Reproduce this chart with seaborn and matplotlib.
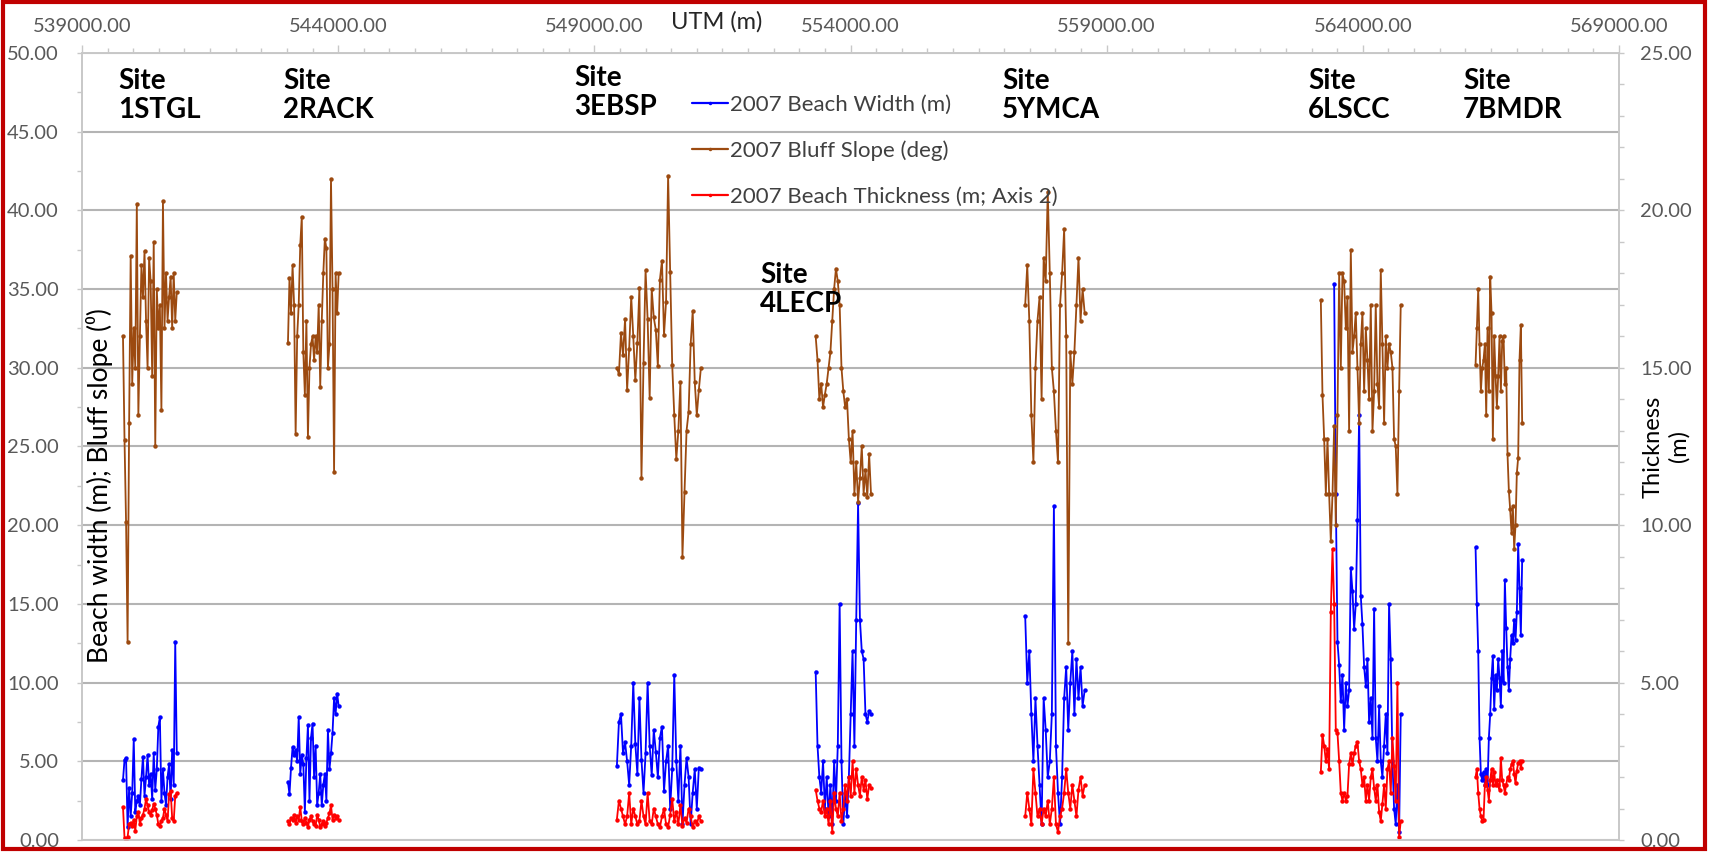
import matplotlib
matplotlib.use("Agg")
import numpy as np
import pandas as pd
import matplotlib.pyplot as plt
import seaborn as sns
from matplotlib.lines import Line2D
from matplotlib.patches import Rectangle
from matplotlib.ticker import MultipleLocator, FormatStrFormatter

# ---------------- data (UTM easting, m) ----------------
sites = ["1STGL", "2RACK", "3EBSP", "4LECP", "5YMCA", "6LSCC", "7BMDR"]

east_1 = [539800, 539830, 539860, 539890, 539920, 539950, 539980, 540010, 540040, 540070, 540100, 540130,
          540160, 540190, 540220, 540250, 540280, 540310, 540340, 540370, 540400, 540430, 540460, 540490,
          540520, 540550, 540580, 540610, 540640, 540670, 540700, 540730, 540760, 540790, 540820, 540850]
slope_1 = [32.0, 25.4, 20.2, 12.6, 26.5, 37.1, 29.0, 32.5, 30.0, 40.4, 27.0, 32.0, 36.5, 34.5, 37.4, 33.0,
           30.0, 37.0, 35.5, 29.5, 38.0, 25.0, 35.0, 32.5, 34.0, 27.3, 40.6, 32.5, 36.0, 33.0, 34.5, 35.8,
           32.5, 36.0, 33.0, 34.8]
width_1 = [3.8, 5.1, 5.2, 0.8, 3.3, 1.5, 3.0, 6.4, 1.8, 2.5, 2.8, 2.2, 3.9, 5.3, 2.8, 4.0, 5.4, 3.5, 4.2,
           2.6, 5.5, 3.2, 4.5, 7.2, 7.8, 2.5, 4.5, 3.0, 2.2, 4.0, 4.8, 2.6, 5.7, 3.5, 12.6, 5.5]
thick_1 = [1.05, 0.05, 0.0, 0.1, 0.5, 0.55, 0.45, 0.65, 0.3, 0.75, 0.9, 0.5, 0.7, 0.8, 1.0, 1.3, 1.1, 0.9,
           0.8, 0.95, 1.15, 1.0, 0.8, 0.5, 0.45, 0.6, 0.7, 1.0, 0.8, 0.6, 1.45, 1.55, 0.7, 0.6, 1.4, 1.5]

east_2 = [543020, 543050, 543080, 543110, 543140, 543170, 543200, 543230, 543260, 543290, 543320, 543350,
          543380, 543410, 543440, 543470, 543500, 543530, 543560, 543590, 543620, 543650, 543680, 543710,
          543740, 543770, 543800, 543830, 543860, 543890, 543920, 543950, 543980, 544010]
slope_2 = [31.6, 35.7, 33.5, 36.5, 34.0, 25.8, 32.0, 34.0, 37.8, 39.6, 31.0, 28.3, 33.0, 25.6, 30.0, 31.5,
           32.0, 30.5, 32.0, 31.0, 34.0, 28.8, 33.0, 36.0, 38.2, 37.6, 30.0, 31.5, 42.0, 35.0, 23.4, 36.0,
           33.5, 36.0]
width_2 = [3.7, 2.9, 4.6, 5.9, 5.4, 5.7, 5.0, 7.8, 4.2, 5.4, 4.8, 1.8, 5.2, 7.3, 2.5, 6.5, 7.4, 4.0, 6.0,
           2.2, 3.0, 4.2, 2.2, 3.5, 4.2, 2.5, 7.0, 4.5, 5.5, 6.8, 9.0, 8.0, 9.3, 8.5]
thick_2 = [0.6, 0.5, 0.7, 0.65, 0.8, 0.55, 0.75, 0.65, 1.05, 0.6, 0.5, 0.7, 0.55, 0.4, 0.65, 0.75, 0.6, 0.5,
           0.45, 0.8, 0.65, 0.4, 0.5, 0.6, 0.45, 0.55, 0.7, 0.85, 1.1, 0.65, 0.8, 0.7, 0.75, 0.65]

east_3 = [549440, 549480, 549520, 549560, 549600, 549640, 549680, 549720, 549760, 549800, 549840, 549880,
          549920, 549960, 550000, 550040, 550080, 550120, 550160, 550200, 550240, 550280, 550320, 550360,
          550400, 550440, 550480, 550520, 550560, 550600, 550640, 550680, 550720, 550760, 550800, 550840,
          550880, 550920, 550960, 551000, 551040, 551080]
slope_3 = [30.0, 29.6, 32.2, 30.8, 33.1, 28.6, 31.2, 34.5, 32.0, 29.2, 31.6, 35.1, 23.0, 30.3, 36.2, 33.1,
           28.1, 35.0, 33.2, 32.4, 30.1, 35.6, 36.8, 32.1, 34.2, 42.2, 36.1, 30.2, 27.0, 24.2, 26.0, 29.1,
           18.0, 22.1, 26.0, 27.2, 31.5, 33.6, 29.1, 27.0, 28.6, 30.0]
width_3 = [4.7, 7.5, 8.0, 5.5, 6.2, 5.0, 3.5, 6.0, 10.0, 6.1, 4.2, 9.0, 5.1, 3.0, 5.5, 10.0, 6.0, 4.1, 7.0,
           5.6, 4.0, 6.5, 7.2, 3.1, 5.0, 6.0, 2.0, 4.5, 10.5, 5.0, 2.5, 6.0, 1.0, 3.5, 5.2, 4.0, 1.0, 3.0,
           4.5, 2.0, 4.6, 4.5]
thick_3 = [0.65, 1.25, 1.0, 0.75, 0.5, 0.75, 1.5, 0.5, 1.0, 0.75, 0.5, 0.6, 1.25, 0.75, 0.5, 1.5, 0.6, 0.5,
           1.0, 0.75, 0.5, 0.4, 0.75, 1.0, 0.5, 0.4, 0.8, 1.3, 0.6, 0.9, 0.5, 1.1, 0.45, 0.7, 0.55, 1.0,
           0.75, 0.4, 0.6, 0.5, 0.75, 0.6]

east_4 = [553320, 553356, 553392, 553428, 553464, 553500, 553536, 553572, 553608, 553644, 553680, 553716,
          553752, 553788, 553824, 553860, 553896, 553932, 553968, 554004, 554040, 554076, 554112, 554148,
          554184, 554220, 554256, 554292, 554328, 554364, 554400]
slope_4 = [32.0, 30.5, 28.0, 29.0, 27.5, 28.3, 29.0, 30.0, 31.0, 33.0, 35.0, 36.3, 35.5, 34.0, 30.0, 28.5,
           27.5, 28.0, 25.5, 24.0, 26.0, 22.0, 24.0, 21.5, 23.0, 25.0, 22.0, 23.5, 21.8, 24.5, 22.0]
width_4 = [10.7, 6.0, 4.0, 3.0, 5.0, 2.0, 4.0, 1.5, 3.5, 1.0, 5.0, 2.5, 6.0, 15.0, 5.0, 1.0, 3.0, 1.5, 4.0,
           8.0, 12.0, 6.0, 14.0, 21.4, 14.0, 12.0, 11.5, 8.0, 7.5, 8.2, 8.0]
thick_4 = [1.6, 1.25, 1.0, 0.9, 1.25, 0.75, 1.0, 0.5, 1.25, 0.25, 1.5, 1.0, 0.75, 1.5, 0.6, 1.0, 1.75, 1.25,
           2.0, 1.4, 2.5, 1.5, 2.25, 1.75, 1.4, 2.0, 1.6, 1.9, 1.3, 1.75, 1.65]

east_5 = [557410, 557450, 557490, 557530, 557570, 557610, 557650, 557690, 557730, 557770, 557810, 557850,
          557890, 557930, 557970, 558010, 558050, 558090, 558130, 558170, 558210, 558250, 558290, 558330,
          558370, 558410, 558450, 558490, 558530, 558570]
slope_5 = [34.0, 36.5, 33.0, 27.0, 24.0, 30.0, 33.0, 34.5, 28.0, 37.0, 35.5, 41.2, 36.0, 30.0, 28.5, 26.0,
           24.0, 34.0, 36.0, 38.8, 32.0, 12.5, 31.0, 29.0, 31.0, 34.0, 37.0, 33.0, 35.0, 33.5]
width_5 = [14.2, 10.0, 12.0, 8.0, 5.0, 9.0, 6.0, 3.5, 1.0, 9.0, 7.0, 4.0, 5.0, 8.0, 21.2, 6.0, 3.0, 1.0,
           4.0, 9.0, 11.0, 7.0, 10.0, 12.0, 8.0, 11.5, 9.0, 11.0, 8.5, 9.5]
thick_5 = [0.75, 1.5, 1.0, 0.5, 2.25, 1.5, 0.75, 1.0, 0.5, 1.0, 0.75, 1.25, 0.5, 1.0, 2.0, 0.5, 0.25, 0.75,
           1.0, 1.5, 2.25, 1.5, 1.0, 1.75, 1.25, 0.75, 1.6, 2.0, 1.4, 1.75]

east_6 = [563180, 563212, 563245, 563278, 563310, 563342, 563375, 563408, 563440, 563472, 563505, 563538,
          563570, 563602, 563635, 563668, 563700, 563732, 563765, 563798, 563830, 563862, 563895, 563928,
          563960, 563992, 564025, 564058, 564090, 564122, 564155, 564188, 564220, 564252, 564285, 564318,
          564350, 564382, 564415, 564448, 564480, 564512, 564545, 564578, 564610, 564642, 564675, 564708,
          564740]
slope_6 = [34.3, 28.3, 25.5, 22.0, 25.5, 22.0, 19.0, 22.0, 26.3, 20.0, 27.0, 36.0, 30.0, 36.0, 35.5, 32.5,
           34.5, 26.0, 37.5, 31.0, 32.0, 33.5, 30.0, 26.5, 31.5, 33.5, 28.5, 32.5, 30.5, 28.0, 34.0, 26.0,
           28.5, 34.0, 29.0, 27.5, 36.2, 31.5, 26.5, 32.0, 30.0, 31.5, 31.0, 30.0, 25.5, 25.0, 22.0, 28.5,
           34.0]
width_6 = [np.nan, np.nan, np.nan, np.nan, np.nan, np.nan, np.nan, np.nan, 35.3, 22.0, 12.6, 11.1, 8.8,
           10.5, 7.0, 10.0, 8.5, 9.5, 17.3, 15.8, 13.4, 15.0, 20.3, 27.0, 15.5, 13.7, 11.0, 9.8, 11.5, 7.5,
           9.0, 6.5, 14.7, 6.5, 5.0, 8.5, 5.0, 4.0, 6.0, 8.0, 5.5, 15.0, 11.5, 5.0, 2.0, 1.0, 3.5, 0.5, 8.0]
thick_6 = [2.15, 3.35, 3.0, 2.5, 2.9, 2.25, 7.25, 9.25, 7.5, 3.5, 3.4, 2.5, 1.5, 1.25, 1.5, 1.25, 1.4, 2.4,
           2.75, 2.4, 2.75, 3.0, 3.1, 2.5, 2.25, 1.75, 2.0, 1.25, 1.75, 1.25, 2.0, 2.25, 1.65, 1.25, 1.75,
           0.9, 0.6, 1.15, 1.75, 1.0, 2.25, 2.5, 1.5, 3.25, 2.35, 1.25, 5.0, 0.1, 0.6]

east_7 = [566200, 566226, 566252, 566278, 566304, 566330, 566356, 566382, 566408, 566434, 566460, 566486,
          566512, 566538, 566564, 566590, 566616, 566642, 566668, 566694, 566720, 566746, 566772, 566798,
          566824, 566850, 566876, 566902, 566928, 566954, 566980, 567006, 567032, 567058, 567084, 567110]
slope_7 = [30.2, 32.5, 35.0, 31.5, 28.5, 30.0, 30.5, 31.5, 27.0, 32.5, 28.5, 35.8, 33.5, 25.5, 32.0, 29.5,
           27.5, 29.5, 32.0, 28.5, 31.7, 32.0, 29.0, 30.0, 24.5, 22.2, 21.0, 19.5, 21.2, 18.5, 20.0, 23.3,
           24.3, 30.5, 32.7, 26.5]
width_7 = [18.6, 15.0, 12.0, 6.5, 4.2, 3.8, 4.3, 3.5, 4.5, 3.5, 6.5, 8.0, 10.3, 11.7, 8.3, 10.5, 9.5, 11.5,
           10.3, 8.5, 12.0, 10.0, 16.5, 13.5, 11.0, 9.5, 11.5, 13.0, 12.5, 14.0, 12.7, 14.5, 18.8, 16.0,
           13.0, 17.8]
thick_7 = [2.0, 2.25, 1.5, 1.0, 0.75, 0.6, 0.65, 1.75, 2.0, 1.6, 1.25, 1.9, 2.25, 1.75, 2.15, 1.75, 1.9,
           1.75, 1.6, 2.6, 1.9, 1.75, 1.5, 1.75, 2.0, 1.9, 2.25, 2.4, 2.5, 2.1, 1.8, 2.2, 2.45, 2.5, 2.3, 2.5]

series_names = ["2007 Beach Width (m)", "2007 Bluff Slope (deg)", "2007 Beach Thickness (m; Axis 2)"]
utm_ticks = [539000, 544000, 549000, 554000, 559000, 564000, 569000]

# ---------------- build long tables ----------------
eastings = [east_1, east_2, east_3, east_4, east_5, east_6, east_7]
widths = [width_1, width_2, width_3, width_4, width_5, width_6, width_7]
slopes = [slope_1, slope_2, slope_3, slope_4, slope_5, slope_6, slope_7]
thicks = [thick_1, thick_2, thick_3, thick_4, thick_5, thick_6, thick_7]

rows_left, rows_right = [], []
for s, e, w, b, t in zip(sites, eastings, widths, slopes, thicks):
    rows_left.append(pd.DataFrame({"easting": e, "value": w, "series": series_names[0], "site": s}))
    rows_left.append(pd.DataFrame({"easting": e, "value": b, "series": series_names[1], "site": s}))
    rows_right.append(pd.DataFrame({"easting": e, "value": t, "series": series_names[2], "site": s}))
df_left = pd.concat(rows_left, ignore_index=True)
df_right = pd.concat(rows_right, ignore_index=True)

# ---------------- styling ----------------
sns.set_theme(style="white")
plt.rcParams["font.family"] = ["Lato", "DejaVu Sans"]

BLUE = "#0000FF"
BROWN = "#9C4A10"
RED = "#FF0000"
GRID = "#b4b4b4"
SPINE = "#c8c8c8"
TICKTXT = "#595959"
palette = {series_names[0]: BLUE, series_names[1]: BROWN, series_names[2]: RED}

fig = plt.figure(figsize=(17.09, 8.58), dpi=100)
fig.patch.set_facecolor("white")
ax = fig.add_axes([0.04798, 0.02098, 0.89936, 0.91725])
ax2 = ax.twinx()

line_kw = dict(units="site", estimator=None, sort=False, marker="o", markersize=3.2,
               markeredgewidth=0, linewidth=1.3, legend=False)
sns.lineplot(data=df_left, x="easting", y="value", hue="series",
             hue_order=series_names[:2], palette=palette, ax=ax, **line_kw)
sns.lineplot(data=df_right, x="easting", y="value", hue="series",
             hue_order=series_names[2:], palette=palette, ax=ax2, **line_kw)

# axes limits / ticks
ax.set_xlim(utm_ticks[0], utm_ticks[-1])
ax.set_ylim(0, 50)
ax2.set_ylim(0, 25)
ax.set_xlabel("")
ax.set_ylabel("")
ax2.set_xlabel("")
ax2.set_ylabel("")

ax.set_xticks(utm_ticks)
ax.xaxis.set_minor_locator(MultipleLocator(500))
ax.xaxis.set_major_formatter(FormatStrFormatter("%.2f"))
ax.xaxis.tick_top()
ax.tick_params(axis="x", which="both", top=True, bottom=False, labeltop=True, labelbottom=False,
               direction="out", color=SPINE, width=1)
ax.tick_params(axis="x", which="major", length=6, labelsize=14.5, labelcolor=TICKTXT, pad=7)
ax.tick_params(axis="x", which="minor", length=3.6)

ax.yaxis.set_major_locator(MultipleLocator(5))
ax.yaxis.set_minor_locator(MultipleLocator(2.5))
ax.yaxis.set_major_formatter(FormatStrFormatter("%.2f"))
ax.tick_params(axis="y", which="both", left=True, direction="out", color=SPINE, width=1, length=3.6)
ax.tick_params(axis="y", which="major", labelsize=14.5, labelcolor=TICKTXT, pad=13)

ax2.yaxis.set_major_locator(MultipleLocator(5))
ax2.yaxis.set_minor_locator(MultipleLocator(1))
ax2.yaxis.set_major_formatter(FormatStrFormatter("%.2f"))
ax2.tick_params(axis="y", which="both", right=True, direction="out", color=SPINE, width=1, length=3.6)
ax2.tick_params(axis="y", which="major", labelsize=14.5, labelcolor=TICKTXT, pad=11.5)

ax.grid(False)
ax2.grid(False)
ax.yaxis.grid(True, which="major", color=GRID, linewidth=1.5)
ax.set_axisbelow(True)

for a in (ax, ax2):
    for sp in a.spines.values():
        sp.set_color(SPINE)
        sp.set_linewidth(1.2)

# axis titles
ax.text(0.0117, 0.45, "Beach width (m); Bluff slope (\u2070)", transform=ax.transAxes,
        rotation=90, ha="center", va="center", fontsize=19, color="black")
ax2.text(1.0306, 0.50, "Thickness\n(m)", transform=ax2.transAxes, rotation=90,
         ha="center", va="center", fontsize=17, color="black", linespacing=1.25)
ax.text(0.413, 1.0394, "UTM (m)", transform=ax.transAxes, ha="center", va="center",
        fontsize=17, color="#262626")

# site labels
site_label_pos = [(539703, 49.05), (542923, 49.05), (548603, 49.25), (552233, 36.7),
                  (556957, 49.05), (562929, 49.05), (565955, 49.05)]
for name, (xp, yp) in zip(sites, site_label_pos):
    ax2.text(xp, yp / 2.0, f"Site\n{name}", ha="left", va="top", fontsize=20,
             fontweight="bold", color="black", linespacing=1.15)

# legend
handles = [Line2D([0], [0], color=palette[n], lw=1.6, marker="o", markersize=2.5,
                  markeredgewidth=0) for n in series_names]
leg = ax2.legend(handles, series_names, loc="upper left",
                 bbox_to_anchor=(692 / 1709, 1 - 95 / 858), bbox_transform=fig.transFigure,
                 frameon=False, borderpad=0, borderaxespad=0, handlelength=1.6,
                 handletextpad=0.12, labelspacing=1.15, fontsize=16)
for txt in leg.get_texts():
    txt.set_color("#404040")

# red chart border
fig.patches.append(Rectangle((0.0015, 0.0105), 0.9962, 0.9872, transform=fig.transFigure,
                             fill=False, edgecolor="#C00000", linewidth=3, zorder=10))

fig.savefig("out.png", dpi=100)
